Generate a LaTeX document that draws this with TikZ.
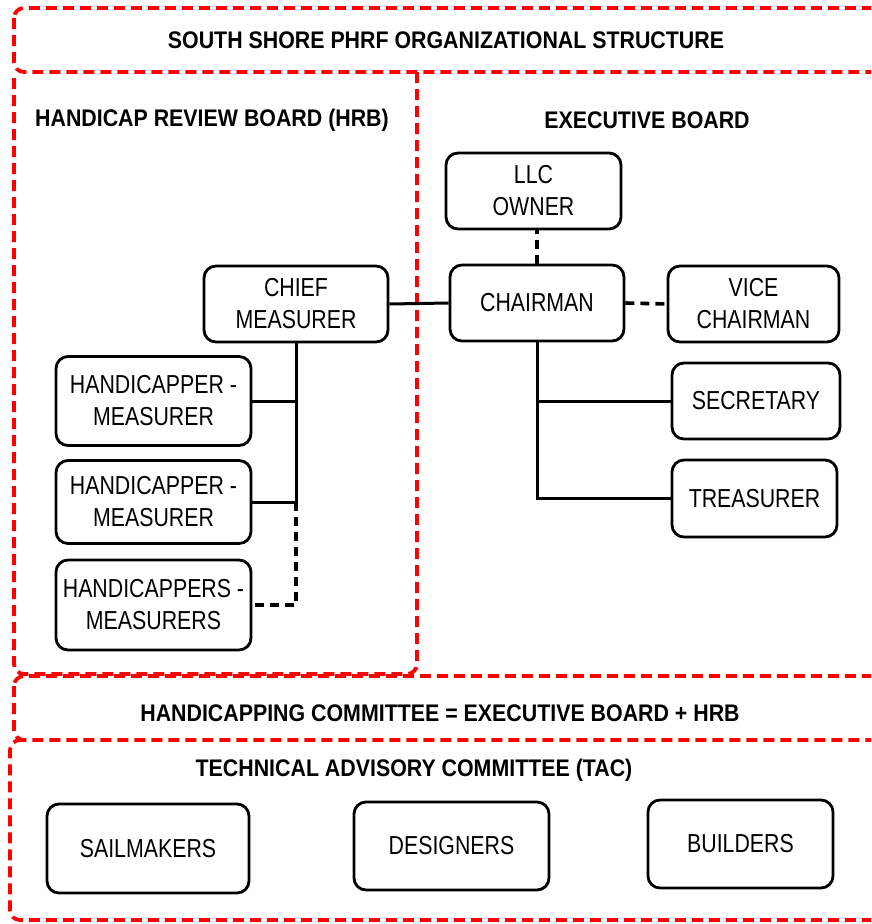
\documentclass[tikz,border=0pt]{standalone}
\usepackage{fontspec}
\setmainfont{Liberation Sans}
\newfontfamily\nodefont[FakeStretch=0.82]{Liberation Sans}
\newfontfamily\headfont[FakeStretch=0.89,UprightFont=* Bold]{Liberation Sans}
\begin{document}
\begin{tikzpicture}[x=1pt,y=-1pt,
  frame/.style={draw=red, line width=3.8pt, dash pattern=on 11pt off 6pt, rounded corners=10pt},
  unit/.style={draw=black, line width=2.8pt, rounded corners=12pt, inner sep=0pt, align=center,
     font=\nodefont\fontsize{26}{32}\selectfont},
  head/.style={inner sep=0pt, font=\headfont\fontsize{24}{28}\selectfont},
  link/.style={line width=3pt},
  dlink/.style={line width=3.6pt, dash pattern=on 9pt off 6pt}]
\useasboundingbox (0,0) rectangle (871,924);
\clip (0,0) rectangle (871,924);
% frames (shared edges drawn once)
\draw[frame] (14,8) rectangle (884,72);
\draw[frame] (14,78) -- (14,674) -- (417,674) -- (417,72);
\draw[frame] (14,676) rectangle (884,740);
\draw[frame] (24,740) -- (10,740) -- (10,920) -- (884,920);
% headings
\node[head] (title) at (446,40) {SOUTH SHORE PHRF ORGANIZATIONAL STRUCTURE};
\node[head] (hrb) at (212,120) {HANDICAP REVIEW BOARD (HRB)};
\node[head] (exec) at (647,120) {EXECUTIVE BOARD};
\node[head] (hc) at (440,713) {HANDICAPPING COMMITTEE = EXECUTIVE BOARD + HRB};
\node[head] (tac) at (414,770) {TECHNICAL ADVISORY COMMITTEE (TAC)};
% units
\node[unit, minimum width=175pt, minimum height=76pt] (llc) at (533.5,191) {LLC\\OWNER};
\node[unit, minimum width=174pt, minimum height=76pt] (chair) at (537,303) {CHAIRMAN};
\node[unit, minimum width=184pt, minimum height=76pt] (chief) at (296,304) {CHIEF\\MEASURER};
\node[unit, minimum width=171pt, minimum height=76pt] (vice) at (753.5,304) {VICE\\CHAIRMAN};
\node[unit, minimum width=168pt, minimum height=76pt] (sec) at (756,401) {SECRETARY};
\node[unit, minimum width=165pt, minimum height=77pt] (tre) at (754.5,498.5) {TREASURER};
\node[unit, minimum width=195pt, minimum height=89pt] (hm1) at (153.5,401) {HANDICAPPER -\\MEASURER};
\node[unit, minimum width=195pt, minimum height=83pt] (hm2) at (153.5,502) {HANDICAPPER -\\MEASURER};
\node[unit, minimum width=195pt, minimum height=90pt] (hms) at (153.5,605) {HANDICAPPERS -\\MEASURERS};
\node[unit, minimum width=202pt, minimum height=89pt] (sail) at (148,848.5) {SAILMAKERS};
\node[unit, minimum width=195pt, minimum height=88pt] (des) at (451.5,846) {DESIGNERS};
\node[unit, minimum width=185pt, minimum height=88pt] (bld) at (740.5,844) {BUILDERS};
% connectors
\draw[link] (chief.east) -- (chair.west);
\draw[dlink] (chair.north) -- (chair.north |- llc.south);
\draw[dlink] (chair.east) -- (vice.west);
\draw[link] (chair.south) -- (chair.south |- tre.west) -- (tre.west);
\draw[link] (chair.south |- sec.west) -- (sec.west);
\draw[link] (chief.south) -- (chief.south |- hm2.east) -- (hm2.east);
\draw[link] (chief.south |- hm1.east) -- (hm1.east);
\draw[dlink] (chief.south |- hm2.east) -- (chief.south |- hms.east) -- (hms.east);
\end{tikzpicture}
\end{document}
